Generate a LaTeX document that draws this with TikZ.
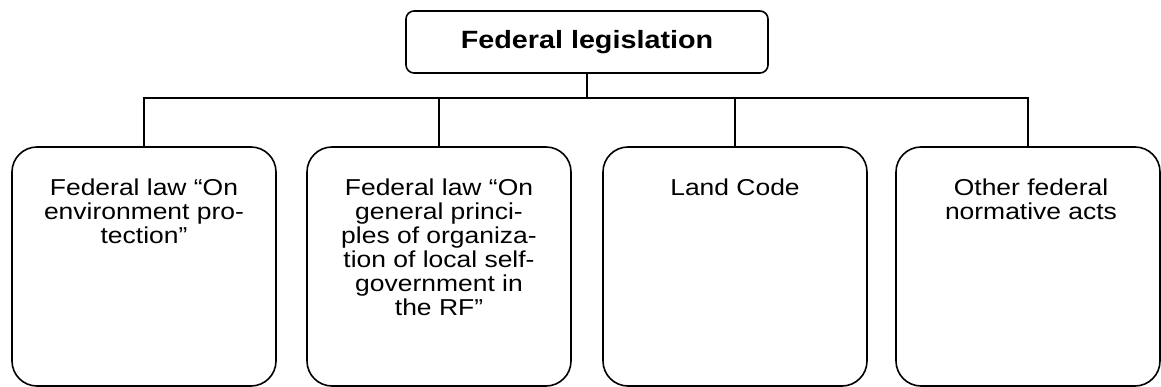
\documentclass[tikz,border=0pt]{standalone}
\usepackage{fontspec}
\setmainfont{Liberation Sans}[FakeStretch=1.15]

\begin{document}
\begin{tikzpicture}[x=1pt,y=-1pt,line width=1.6pt,
    head/.style={draw,rounded corners=8pt,minimum width=362pt,minimum height=62pt,
      font=\fontsize{25}{27}\selectfont\bfseries},
    act/.style={draw,rounded corners=25pt,minimum width=264pt,minimum height=239pt},
    acttext/.style={anchor=north,inner sep=0pt,align=center,
      font=\fontsize{23}{24}\selectfont}]
    \useasboundingbox (0,0) rectangle (1161,387);
    \node[head] (F) at (587,42) {Federal legislation};
    \coordinate (bus) at (587,98);
    \node[act] (L1) at (144,266.5) {};
    \node[act] (L2) at (439,266.5) {};
    \node[act] (L3) at (735,266.5) {};
    \node[act] (L4) at (1028,266.5) {};
    \node[acttext] (T1) at (144,178) {Federal law “On\\environment pro-\\tection”};
    \node[acttext] (T2) at (439,178) {Federal law “On\\general princi-\\ples of organiza-\\tion of local self-\\government in\\the RF”};
    \node[acttext] (T3) at (735,178) {Land Code};
    \node[acttext] (T4) at (1031,178) {Other federal\\normative acts};
    \draw (F) -- (bus);
    \draw (L1.north) |- (bus) -| (L4.north);
    \foreach \i in {2,3}
      \draw (L\i.north) -- (L\i.north |- bus);
  \end{tikzpicture}
\end{document}
